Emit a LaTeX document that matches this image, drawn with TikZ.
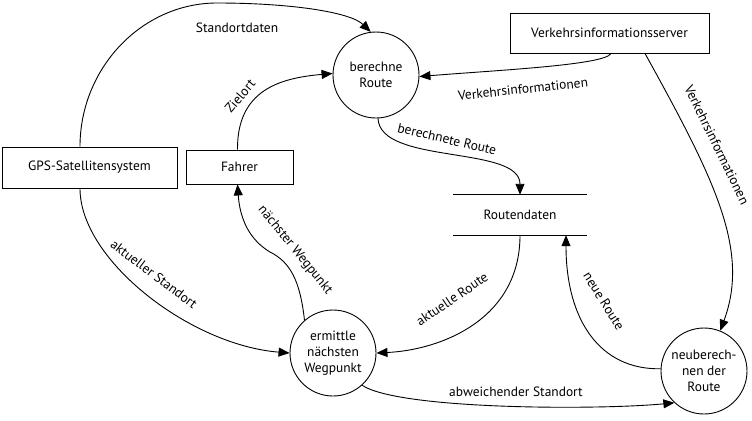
\documentclass[tikz,border=0pt]{standalone}
\usepackage{fontspec}
\setmainfont{PT Sans}
\usetikzlibrary{arrows.meta}
\begin{document}
\begin{tikzpicture}[x=1bp,y=-1bp,
  every node/.style={font=\fontsize{13.5}{16}\selectfont, inner sep=0pt},
  ent/.style={draw, line width=0.9bp, rectangle},
  proc/.style={draw, line width=0.9bp, circle, minimum size=86bp, align=center},
  store/.style={minimum width=134bp, minimum height=40bp},
  flow/.style={line width=0.9bp, -{Triangle[length=11bp,width=9bp]}},
  lbl/.style={}]
\useasboundingbox (0,0) rectangle (752,420);
\fill[white] (0,0) rectangle (752,420);

\node[ent, minimum width=175bp, minimum height=41bp] (gps) at (89.5,167.5) {GPS-Satellitensystem};
\node[ent, minimum width=107bp, minimum height=34bp] (fahrer) at (239.5,167) {Fahrer};
\node[ent, minimum width=199bp, minimum height=40bp] (vis) at (609.5,33) {Verkehrsinformationsserver};
\node[proc] (ber) at (376,75) {berechne\\Route};
\node[proc] (erm) at (333,353) {ermittle\\nächsten\\Wegpunkt};
\node[proc] (neu) at (704,371) {neuberech-\\nen der\\Route};
\node[store] (rd) at (520,215) {Routendaten};
\draw[line width=0.9bp] (rd.north west) -- (rd.north east);
\draw[line width=0.9bp] (rd.south west) -- (rd.south east);

% Standortdaten
\draw[flow] ([xshift=-9.5bp]gps.north) .. controls (80,68) and (142,3) .. (217,3)
  .. controls (290,3) and (350,12) .. (ber.97);
\node[lbl] (l1) at (237,28) {Standortdaten};

% Zielort
\draw[flow] ([xshift=-2bp]fahrer.north) .. controls (237,90) and (280,78) .. (ber.178);
\node[lbl, rotate=50] (l2) at (240,96) {Zielort};

% Verkehrsinformationen (links)
\draw[flow] ([xshift=1.5bp]vis.south) .. controls (605,65) and (500,70) .. (ber.-2);
\node[lbl, rotate=6] (l3) at (523,89) {Verkehrsinformationen};

% berechnete Route
\draw[flow] ([xshift=2bp]ber.south) .. controls (380,165) and (520,145) .. (rd.north);
\node[lbl, rotate=-13] (l4) at (447,139) {berechnete Route};

% Verkehrsinformationen (rechts)
\draw[flow] ([xshift=35.5bp]vis.south) .. controls (715,180) and (750,250) .. (neu.68);
\node[lbl, rotate=-64] (l5) at (717,145) {Verkehrsinformationen};

% neue Route
\draw[flow] (neu.177) .. controls (600,370) and (566,320) .. ([xshift=46bp]rd.south);
\node[lbl, rotate=-58] (l6) at (604,301) {neue Route};

% aktuelle Route
\draw[flow] (rd.south) .. controls (520,320) and (440,350) .. (erm.east);
\node[lbl, rotate=34] (l7) at (452,299) {aktuelle Route};

% abweichender Standort
\draw[flow] (erm.-48) .. controls (400,410) and (600,410) .. (neu.227);
\node[lbl] (l8) at (516,392) {abweichender Standort};

% aktueller Standort
\draw[flow] ([xshift=-9.5bp]gps.south) .. controls (80,260) and (190,345) .. (erm.west);
\node[lbl, rotate=-37] (l9) at (154,274) {aktueller Standort};

% nächster Wegpunkt
\draw[flow] (erm.131) .. controls (300,280) and (290,262) .. (270,252)
  .. controls (250,240) and (240,220) .. ([xshift=-2bp]fahrer.south);
\node[lbl, rotate=-51] (l10) at (295,250) {nächster Wegpunkt};
\end{tikzpicture}
\end{document}
